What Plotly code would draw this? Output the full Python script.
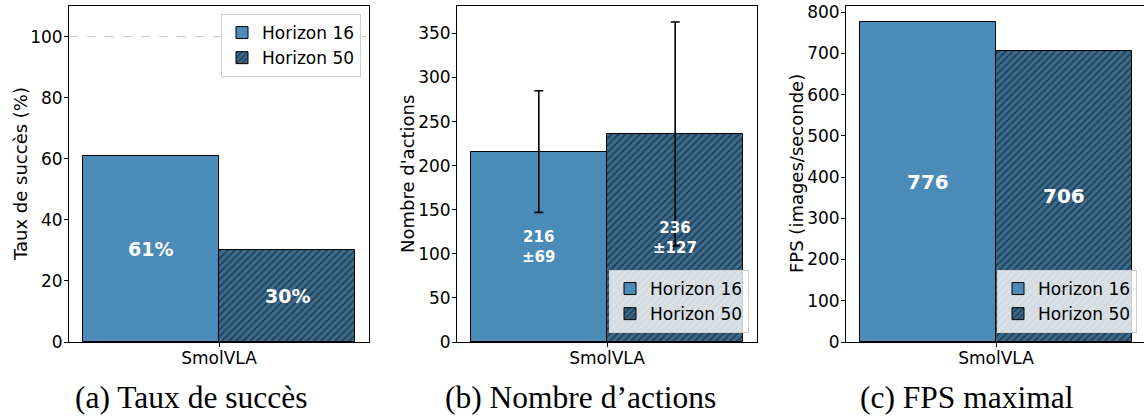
import plotly.graph_objects as go

# ---- data ----
categories = ["SmolVLA"]
series_names = ["Horizon 16", "Horizon 50"]
success_rate = [61, 30]          # %
actions_mean = [216, 236]
actions_std = [69, 127]
fps_max = [776, 706]
captions = ["(a) Taux de succès", "(b) Nombre d\u2019actions", "(c) FPS maximal"]
y_titles = ["Taux de succès (%)", "Nombre d'actions", "FPS (images/seconde)"]

# ---- style ----
W, H = 1144, 418
colors = ["#4a8bb8", "#3a6c90"]
bar_w = 0.35
sans = "DejaVu Sans"
serif = "Liberation Serif"
TICK_FS = 17
TITLE_FS = 18
LEG_FS = 17

def px_x(v):
    return v / W

def px_y(v):
    return 1 - v / H

fig = go.Figure()

panels = [
    dict(vals=success_rate, err=None,
         text=[f"<b>{v}%</b>" for v in success_rate], tsize=19,
         yr=[0, 110], dtick=20, legend="legend"),
    dict(vals=actions_mean, err=actions_std,
         text=[f"<b>{m}<br>±{s}</b>" for m, s in zip(actions_mean, actions_std)], tsize=15,
         yr=[0, max(m + s for m, s in zip(actions_mean, actions_std)) * 1.05], dtick=50, legend="legend2"),
    dict(vals=fps_max, err=None,
         text=[f"<b>{v}</b>" for v in fps_max], tsize=20,
         yr=[0, max(fps_max) * 1.05], dtick=100, legend="legend3"),
]

x_domains = [[px_x(69), px_x(369)], [px_x(457), px_x(757)], [px_x(846), 1.0]]
y_domain = [px_y(342), px_y(6)]

for p_i, p in enumerate(panels):
    xa = "x" if p_i == 0 else f"x{p_i+1}"
    ya = "y" if p_i == 0 else f"y{p_i+1}"
    n = len(series_names)
    for s_i, name in enumerate(series_names):
        offset = (s_i - (n - 1) / 2) * bar_w
        xs = [c_i + offset for c_i in range(len(categories))]
        marker = dict(color=colors[s_i], line=dict(color="black", width=1))
        if s_i == 1:
            marker["pattern"] = dict(shape="/", fgcolor="#111111", bgcolor=colors[s_i],
                                     size=5, solidity=0.38)
        err = None
        if p["err"] is not None:
            err = dict(type="data", array=[p["err"][s_i]], visible=True,
                       color="black", thickness=1.6, width=4.5)
        fig.add_trace(go.Bar(
            x=xs, y=[p["vals"][s_i]], width=bar_w, name=name,
            marker=marker, error_y=err,
            xaxis=xa, yaxis=ya, legend=p["legend"], showlegend=True,
        ))
        # value label centred in the bar (drawn on top of error bars)
        fig.add_annotation(x=xs[0], y=p["vals"][s_i] / 2, xref=xa, yref=ya,
                           text=p["text"][s_i], showarrow=False,
                           xanchor="center", yanchor="middle",
                           font=dict(family=sans, size=p["tsize"], color="white"))

    xr = [-(len(series_names) * bar_w) * 1.1 / 2, (len(series_names) * bar_w) * 1.1 / 2]
    if p_i == 2:
        # axis is 298px wide, same scale as other panels (300px)
        xr = [xr[0], xr[0] + (xr[1] - xr[0]) * 298 / 300]
    xkey = "xaxis" if p_i == 0 else f"xaxis{p_i+1}"
    ykey = "yaxis" if p_i == 0 else f"yaxis{p_i+1}"
    fig.update_layout(**{
        xkey: dict(domain=x_domains[p_i], anchor=ya, range=xr, automargin=False,
                   tickvals=list(range(len(categories))), ticktext=categories,
                   ticks="outside", ticklen=4, tickwidth=1, tickcolor="black",
                   ticklabelstandoff=-3,
                   showline=True, linecolor="black", linewidth=1, mirror=True,
                   showgrid=False, zeroline=False,
                   tickfont=dict(family=sans, size=TICK_FS, color="black")),
        ykey: dict(domain=y_domain, anchor=xa, range=p["yr"], dtick=p["dtick"], tick0=0,
                   automargin=False,
                   ticks="outside", ticklen=4, tickwidth=1, tickcolor="black",
                   ticklabelstandoff=-2,
                   showline=True, linecolor="black", linewidth=1, mirror=(p_i != 2),
                   showgrid=False, zeroline=False,
                   tickfont=dict(family=sans, size=TICK_FS, color="black")),
    })

# reference line at 100% on panel (a)
fig.add_shape(type="line", xref="x domain", yref="y", x0=0, x1=1, y0=100, y1=100,
              line=dict(color="#c8c8c8", width=1, dash="dash"), layer="below")

legend_common = dict(font=dict(family=sans, size=LEG_FS, color="black"),
                     bgcolor="rgba(255,255,255,0.8)", bordercolor="#d0d0d0", borderwidth=1,
                     itemwidth=30, tracegroupgap=0)
fig.update_layout(
    legend=dict(x=px_x(361), y=px_y(14), xanchor="right", yanchor="top", **legend_common),
    legend2=dict(x=px_x(749), y=px_y(333), xanchor="right", yanchor="bottom", **legend_common),
    legend3=dict(x=px_x(1137), y=px_y(333), xanchor="right", yanchor="bottom", **legend_common),
)

# y-axis titles
for i, (t, cx) in enumerate(zip(y_titles, [20, 407, 796])):
    fig.add_annotation(text=t, x=px_x(cx), y=px_y(174), xref="paper", yref="paper",
                       textangle=-90, showarrow=False, xanchor="center", yanchor="middle",
                       font=dict(family=sans, size=TITLE_FS, color="black"))

# captions
for t, cx in zip(captions, [191, 580, 967]):
    fig.add_annotation(text=t, x=px_x(cx), y=px_y(397), xref="paper", yref="paper",
                       showarrow=False, xanchor="center", yanchor="middle",
                       font=dict(family=serif, size=31.5, color="black"))

fig.update_layout(width=W, height=H, margin=dict(l=0, r=0, t=0, b=0, autoexpand=False),
                  paper_bgcolor="white", plot_bgcolor="white", barmode="overlay",
                  bargap=0)

fig.write_html("out.html")
